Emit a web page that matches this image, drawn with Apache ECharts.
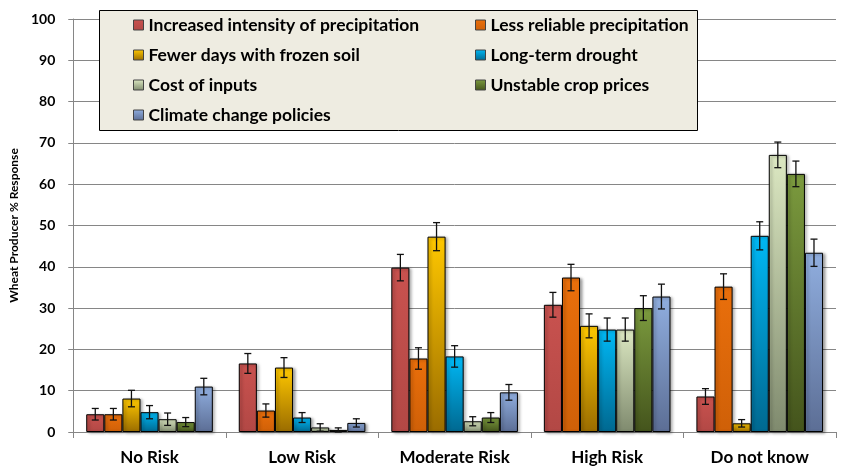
<!DOCTYPE html>
<html><head><meta charset="utf-8">
<script src="https://cdn.jsdelivr.net/npm/echarts@6/dist/echarts.min.js"></script>
<style>html,body{margin:0;padding:0;background:#fff}#c{width:844px;height:466px}</style>
</head><body><div id="c"></div>
<script>
const categories = ['No Risk', 'Low Risk', 'Moderate Risk', 'High Risk', 'Do not know'];
const seriesNames = ['Increased intensity of precipitation', 'Less reliable precipitation', 'Fewer days with frozen soil', 'Long-term drought', 'Cost of inputs', 'Unstable crop prices', 'Climate change policies'];
const intensity = [4.3, 16.6, 39.8, 30.8, 8.6];
const lessReliable = [4.3, 5.2, 17.8, 37.4, 35.2];
const frozenSoil = [8.1, 15.6, 47.3, 25.7, 2.1];
const drought = [4.8, 3.5, 18.3, 24.8, 47.5];
const inputs = [3.1, 1.1, 2.6, 24.8, 67.1];
const cropPrices = [2.4, 0.5, 3.5, 30.0, 62.5];
const policies = [11.0, 2.2, 9.6, 32.8, 43.4];
const errIntensity = [1.4, 2.4, 3.2, 3.0, 1.9];
const errLessReliable = [1.4, 1.6, 2.6, 3.2, 3.1];
const errFrozenSoil = [2.0, 2.4, 3.4, 2.9, 0.9];
const errDrought = [1.6, 1.2, 2.6, 2.8, 3.4];
const errInputs = [1.5, 0.9, 1.1, 2.8, 3.1];
const errCropPrices = [1.1, 0.5, 1.2, 3.0, 3.1];
const errPolicies = [2.0, 1.0, 1.9, 3.0, 3.3];
const yTicks = [0, 10, 20, 30, 40, 50, 60, 70, 80, 90, 100];

const values = [intensity, lessReliable, frozenSoil, drought, inputs, cropPrices, policies];
const errors = [errIntensity, errLessReliable, errFrozenSoil, errDrought, errInputs, errCropPrices, errPolicies];
const grads = [
  ['#C9524F', '#B24845'],
  ['#EA6F0B', '#CF6008'],
  ['#FFC800', '#9A6C00'],
  ['#00B8F5', '#006890'],
  ['#DCE8C2', '#7F8A6E'],
  ['#7B9A3E', '#44541C'],
  ['#90AEDF', '#5C6E95']
];
const FONT = 'Lato';
const GAP = 0.17;

function grad(c) {
  return new echarts.graphic.LinearGradient(0, 0, 0, 1, [{offset: 0, color: c[0]}, {offset: 1, color: c[1]}]);
}

const series = [];
seriesNames.forEach((name, k) => {
  series.push({
    name: name, type: 'bar', barGap: 0, barCategoryGap: (GAP * 100) + '%',
    data: values[k],
    itemStyle: {color: grad(grads[k]), borderColor: '#000', borderWidth: 1,
      shadowColor: 'rgba(0,0,0,0.35)', shadowBlur: 3, shadowOffsetX: 2, shadowOffsetY: 1},
    emphasis: {disabled: true}
  });
});
seriesNames.forEach((name, k) => {
  series.push({
    type: 'custom', z: 5, silent: true,
    encode: {x: 0, y: 1},
    data: values[k].map((v, i) => [i, v, errors[k][i]]),
    renderItem: function (params, api) {
      const ci = api.value(0), v = api.value(1), e = api.value(2);
      const c = api.coord([ci, v]);
      const bw = api.size([1, 0])[0] * (1 - GAP) / 7;
      const x = c[0] + (k - 3) * bw;
      const yt = api.coord([ci, v + e])[1];
      const yb = api.coord([ci, Math.max(0, v - e)])[1];
      const cap = 3.5;
      const st = {stroke: '#111', lineWidth: 1.3};
      return {type: 'group', children: [
        {type: 'line', shape: {x1: x, y1: yt, x2: x, y2: yb}, style: st},
        {type: 'line', shape: {x1: x - cap, y1: yt, x2: x + cap, y2: yt}, style: st},
        {type: 'line', shape: {x1: x - cap, y1: yb, x2: x + cap, y2: yb}, style: st}
      ]};
    }
  });
});

const legendCommon = {
  orient: 'vertical', itemWidth: 10, itemHeight: 10, itemGap: 12, icon: 'rect',
  selectedMode: false, padding: 0, top: 16,
  textStyle: {fontFamily: FONT, fontWeight: 'bold', fontSize: 17.5, color: '#000', lineHeight: 18},
  itemStyle: {borderColor: '#444', borderWidth: 1, shadowBlur: 0, shadowOffsetX: 0, shadowOffsetY: 0}
};

const chart = echarts.init(document.getElementById('c'), null, {renderer: 'canvas'});
chart.setOption({
  animation: false,
  backgroundColor: '#fff',
  grid: {left: 64, right: 8, top: 19, bottom: 33},
  graphic: [{type: 'rect', z: 1, shape: {x: 99.5, y: 10.5, width: 598, height: 120},
    style: {fill: '#EEECE1', stroke: '#000', lineWidth: 1}}],
  legend: [
    Object.assign({}, legendCommon, {left: 133, data: [seriesNames[0], seriesNames[2], seriesNames[4], seriesNames[6]]}),
    Object.assign({}, legendCommon, {left: 475, data: [seriesNames[1], seriesNames[3], seriesNames[5]]})
  ],
  xAxis: {
    type: 'category', data: categories,
    axisLine: {lineStyle: {color: '#868686', width: 1}},
    axisTick: {show: true, length: 6, alignWithLabel: false, lineStyle: {color: '#868686'}},
    axisLabel: {fontFamily: FONT, fontWeight: 'bold', fontSize: 17, color: '#000', margin: 17}
  },
  yAxis: {
    type: 'value', min: yTicks[0], max: yTicks[yTicks.length - 1], interval: 10,
    name: 'Wheat Producer % Response', nameLocation: 'middle', nameGap: 50,
    nameTextStyle: {fontFamily: FONT, fontWeight: 'bold', fontSize: 12, color: '#000'},
    axisLine: {show: true, lineStyle: {color: '#868686'}},
    axisTick: {show: true, length: 5, lineStyle: {color: '#868686'}},
    splitLine: {lineStyle: {color: '#868686', width: 1}},
    axisLabel: {fontFamily: FONT, fontWeight: 'bold', fontSize: 14, color: '#000', margin: 18}
  },
  series: series
});
</script></body></html>
